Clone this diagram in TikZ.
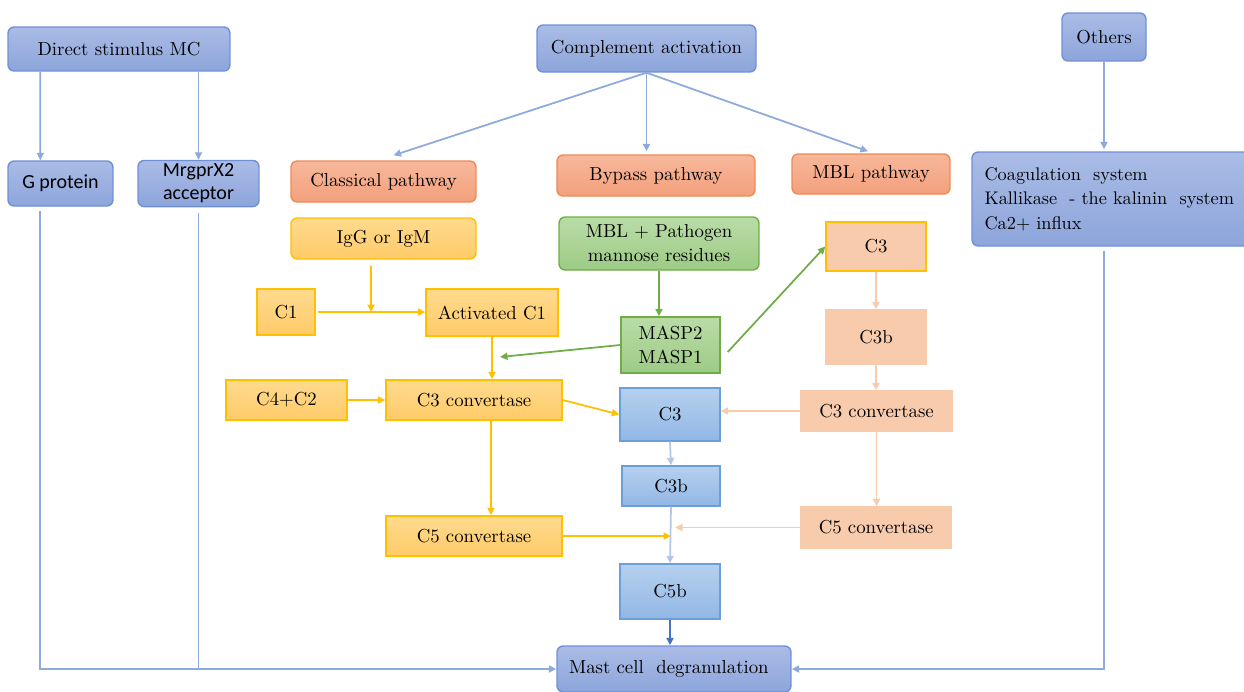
\documentclass[tikz,border=0pt]{standalone}
\usepackage{fontspec}
\newfontfamily\calibri{Carlito}
\usetikzlibrary{arrows.meta}
\definecolor{bxtop}{HTML}{AABCE6}
\definecolor{bxbot}{HTML}{8DA5DB}
\definecolor{bxline}{HTML}{7090D6}
\definecolor{ortop}{HTML}{F7B89B}
\definecolor{orbot}{HTML}{F3A07C}
\definecolor{orline}{HTML}{EE8A55}
\definecolor{ywtop}{HTML}{FFDA8E}
\definecolor{ywbot}{HTML}{FFCB68}
\definecolor{ywline}{HTML}{FFC000}
\definecolor{gntop}{HTML}{B9DCA7}
\definecolor{gnbot}{HTML}{9DCB86}
\definecolor{gnline}{HTML}{70AD47}
\definecolor{peach}{HTML}{F8CBAD}
\definecolor{brtop}{HTML}{B5D0EF}
\definecolor{brbot}{HTML}{92B7E5}
\definecolor{brline}{HTML}{6A9FD8}
\definecolor{arblue}{HTML}{8EAADC}
\definecolor{arlight}{HTML}{B4C7E7}
\definecolor{ardark}{HTML}{4472C4}
\tikzset{
  txt/.style={font=\rmfamily\fontsize{10.7}{13.6}\selectfont, inner sep=2pt, align=center},
  bluebox/.style={txt, draw=bxline, top color=bxtop, bottom color=bxbot, rounded corners=3.5pt, line width=0.8pt},
  pathbox/.style={txt, draw=orline, top color=ortop, bottom color=orbot, rounded corners=3.5pt, line width=0.8pt},
  ylwbox/.style={txt, draw=ywline, top color=ywtop, bottom color=ywbot, rounded corners=3.5pt, line width=0.8pt},
  ylwrect/.style={txt, draw=ywline, top color=ywtop, bottom color=ywbot, line width=0.8pt},
  grnbox/.style={txt, draw=gnline, top color=gntop, bottom color=gnbot, rounded corners=3.5pt, line width=0.8pt},
  grnrect/.style={txt, draw=gnline, top color=gntop, bottom color=gnbot, line width=0.8pt},
  peachrect/.style={txt, draw=peach, fill=peach, line width=0.8pt},
  bluerect/.style={txt, draw=brline, top color=brtop, bottom color=brbot, line width=0.8pt},
  tip/.style={-{Triangle[length=1.5mm,width=1.4mm]}},
  bluearr/.style={tip, draw=arblue, line width=1pt},
  ylwarr/.style={tip, draw=ywline, line width=1pt},
  grnarr/.style={tip, draw=gnline, line width=1pt},
  peacharr/.style={tip, draw=peach, line width=1pt},
  ltarr/.style={tip, draw=arlight, line width=1pt},
  darkarr/.style={tip, draw=ardark, line width=1pt}
}
\begin{document}
\begin{tikzpicture}[x=0.02cm,y=-0.02cm]
  \useasboundingbox (0,0) rectangle (1244,691);
  \draw
    (119,49) node[bluebox, minimum width=4.44cm, minimum height=0.88cm] (direct) {Direct stimulus MC}
    (646.5,48.5) node[bluebox, minimum width=4.38cm, minimum height=0.94cm] (compl) {Complement activation}
    (1104,37) node[bluebox, minimum width=1.68cm, minimum height=0.96cm] (others) {Others}
    (60.5,183.5) node[bluebox, minimum width=2.10cm, minimum height=0.90cm, font=\calibri\fontsize{11.4}{13.6}\selectfont] (gprot) {G protein}
    (198.5,183.5) node[bluebox, minimum width=2.42cm, minimum height=0.90cm, font=\calibri\fontsize{11.4}{13}\selectfont] (mrgpr) {MrgprX2\\acceptor}
    (383.5,181.5) node[pathbox, minimum width=3.70cm, minimum height=0.82cm] (classic) {Classical pathway}
    (656,175.5) node[pathbox, minimum width=3.96cm, minimum height=0.82cm] (bypass) {Bypass pathway}
    (871,174) node[pathbox, minimum width=3.16cm, minimum height=0.80cm] (mblpath) {MBL pathway}
    (1112,199) node[bluebox, minimum width=5.6cm, minimum height=1.88cm, text width=5.1cm, inner xsep=0.25cm, align=left, font=\rmfamily\fontsize{10.4}{13.9}\selectfont] (coag) {Coagulation \ system\\Kallikase \ - the kalinin \ system\\Ca2+ influx}
    (383.5,238.5) node[ylwbox, minimum width=3.70cm, minimum height=0.82cm] (igg) {IgG or IgM}
    (659,243.5) node[grnbox, minimum width=4.00cm, minimum height=1.06cm] (mblpg) {MBL + Pathogen\\mannose residues}
    (876,246.5) node[peachrect, draw=ywline, minimum width=2.00cm, minimum height=0.98cm] (c3p) {C3}
    (286,312) node[ylwrect, minimum width=1.16cm, minimum height=0.92cm] (c1) {C1}
    (492,312.5) node[ylwrect, minimum width=2.64cm, minimum height=0.94cm] (actc1) {Activated C1}
    (670.5,345) node[grnrect, minimum width=1.98cm, minimum height=1.12cm] (masp) {MASP2\\MASP1}
    (876,337) node[peachrect, minimum width=2.00cm, minimum height=1.08cm] (c3bp) {C3b}
    (286.5,400) node[ylwrect, minimum width=2.42cm, minimum height=0.80cm] (c4c2) {C4+C2}
    (474,400) node[ylwrect, minimum width=3.52cm, minimum height=0.80cm] (c3cy) {C3 convertase}
    (670,414.5) node[bluerect, minimum width=2.00cm, minimum height=1.06cm] (c3b) {C3}
    (876.5,411) node[peachrect, minimum width=3.02cm, minimum height=0.80cm] (c3cp) {C3 convertase}
    (671,486) node[bluerect, minimum width=1.96cm, minimum height=0.80cm] (c3bb) {C3b}
    (474,536) node[ylwrect, minimum width=3.52cm, minimum height=0.80cm] (c5cy) {C5 convertase}
    (876,527.5) node[peachrect, minimum width=3.00cm, minimum height=0.82cm] (c5cp) {C5 convertase}
    (670,591.5) node[bluerect, minimum width=2.00cm, minimum height=1.10cm] (c5b) {C5b}
    (674,669) node[bluebox, minimum width=4.68cm, minimum height=0.92cm, text width=4.2cm, inner xsep=0.24cm, align=left] (mast) {Mast cell \ degranulation};
  \coordinate (maspend) at (500,357);
  % direct stimulus and others
  \begin{scope}[bluearr]
    \draw ([xshift=0.66cm]direct.south west) -- ([xshift=0.66cm]gprot.north west);
    \draw (direct.south -| mrgpr.north) -- (mrgpr.north);
    \draw (compl.south) -- ([xshift=0.2cm,yshift=0.1cm]classic.north);
    \draw (compl.south) -- ([yshift=0.06cm]compl.south |- bypass.north);
    \draw (compl.south) -- ([xshift=-0.06cm,yshift=0.04cm]mblpath.north);
    \draw (others.south) -- ([yshift=0.04cm]others.south |- coag.north);
    \draw ([xshift=0.66cm,yshift=-0.08cm]gprot.south west) |- (mast.west);
    \draw (others.south |- coag.south) ++(0,4) |- (mast.east);
    \draw[-] ([yshift=-0.12cm]mrgpr.south) -- (mrgpr.south |- mast.west);
  \end{scope}
  % classical pathway
  \begin{scope}[ylwarr]
    \draw ([xshift=-0.25cm,yshift=-0.12cm]igg.south) -- ([xshift=-0.25cm]igg.south |- c1.east);
    \draw ([xshift=0.04cm]c1.east) -- (c1.east -| actc1.west);
    \draw (actc1.south) -- (actc1.south |- c3cy.north);
    \draw (c4c2.east) -- (c3cy.west);
    \draw (c3cy.east) -- (c3b.west);
    \draw ([xshift=0.34cm]c3cy.south) -- ([xshift=0.34cm]c5cy.north);
    \draw (c5cy.east) -- (c5cy.east -| c3bb.south);
  \end{scope}
  % MBL pathway
  \begin{scope}[grnarr]
    \draw (mblpg.south) -- (mblpg.south |- masp.north);
    \draw (masp.west) -- (maspend);
    \draw ([xshift=0.14cm,yshift=-0.14cm]masp.east) -- (c3p.west);
  \end{scope}
  % bypass pathway
  \begin{scope}[peacharr]
    \draw (c3p.south) -- (c3bp.north);
    \draw (c3bp.south) -- (c3bp.south |- c3cp.north);
    \draw (c3cp.south) -- (c3cp.south |- c5cp.north);
    \draw (c3cp.west) -- (c3cp.west -| c3b.east);
    \draw (c5cp.west) -- ([xshift=0.08cm]c5cp.west -| c3bb.south);
  \end{scope}
  \draw[ltarr] (c3b.south) -- (c3bb.north);
  \draw[ltarr] (c3bb.south) -- (c5b.north);
  \draw[darkarr] (c5b.south) -- (mast.north -| c5b.south);
\end{tikzpicture}
\end{document}
